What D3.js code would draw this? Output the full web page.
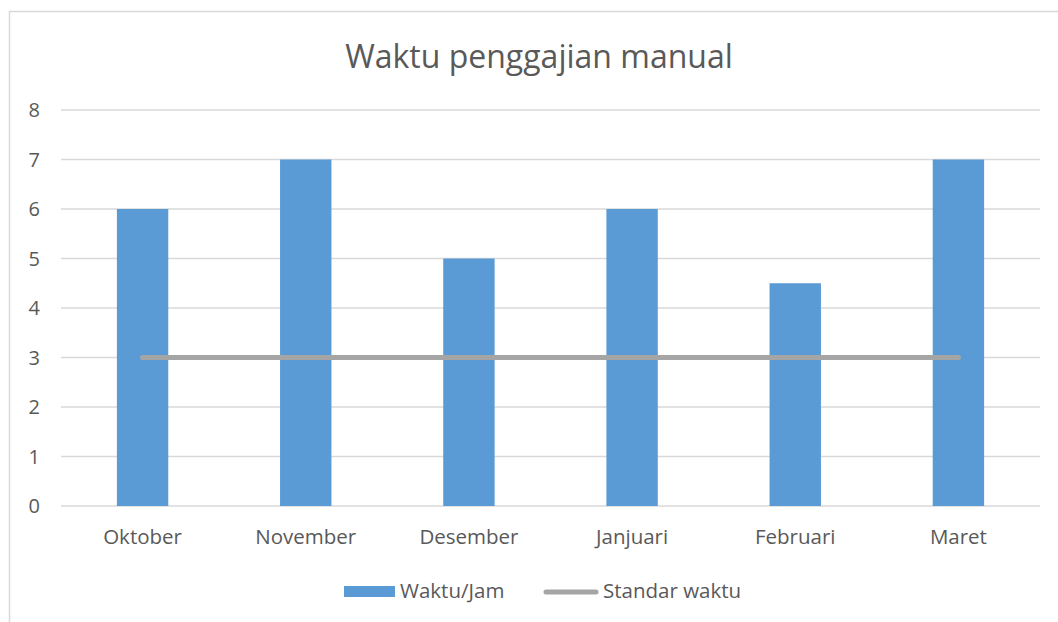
<!DOCTYPE html>
<html>
<head>
<meta charset="utf-8">
<script src="https://cdn.jsdelivr.net/npm/d3@7"></script>
<style>
  body { margin: 0; background: #fff; }
  text { font-family: "Open Sans", "Noto Sans", sans-serif; fill: #595959; }
</style>
</head>
<body>
<svg id="chart" width="1058" height="622"></svg>
<script>
const months = ['Oktober', 'November', 'Desember', 'Janjuari', 'Februari', 'Maret'];
const jamValues = [6, 7, 5, 6, 4.5, 7];
const standarValues = [3, 3, 3, 3, 3, 3];
const yTicks = [0, 1, 2, 3, 4, 5, 6, 7, 8];
const seriesNames = ['Waktu/Jam', 'Standar waktu'];

const svg = d3.select('#chart');
const barColor = '#5B9BD5';
const lineColor = '#A5A5A5';

// chart frame
svg.append('rect')
  .attr('x', 9.5).attr('y', 11.5)
  .attr('width', 1100).attr('height', 700)
  .attr('fill', 'none')
  .attr('stroke', '#D9D9D9')
  .attr('stroke-width', 1.5);

const x = d3.scaleBand()
  .domain(months)
  .range([61, 1040])
  .paddingInner(0.685)
  .paddingOuter(0.3425);

const y = d3.scaleLinear()
  .domain([0, 8])
  .range([506, 110]);

// gridlines
svg.append('g')
  .selectAll('line')
  .data(yTicks)
  .enter().append('line')
  .attr('x1', 61).attr('x2', 1040)
  .attr('y1', d => y(d)).attr('y2', d => y(d))
  .attr('stroke', '#D9D9D9')
  .attr('stroke-width', 1.5);

// y labels
svg.append('g')
  .selectAll('text')
  .data(yTicks)
  .enter().append('text')
  .attr('x', 40)
  .attr('y', d => y(d))
  .attr('dy', '0.36em')
  .attr('text-anchor', 'end')
  .style('font-size', '20px')
  .text(d => d);

// bars
svg.append('g')
  .selectAll('rect')
  .data(jamValues)
  .enter().append('rect')
  .attr('x', (d, i) => x(months[i]))
  .attr('y', d => y(d))
  .attr('width', x.bandwidth())
  .attr('height', d => y(0) - y(d))
  .attr('fill', barColor);

// standard line
const line = d3.line()
  .x((d, i) => x(months[i]) + x.bandwidth() / 2)
  .y(d => y(d));
svg.append('path')
  .datum(standarValues)
  .attr('d', line)
  .attr('fill', 'none')
  .attr('stroke', lineColor)
  .attr('stroke-width', 5)
  .attr('stroke-linecap', 'round');

// x labels
svg.append('g')
  .selectAll('text')
  .data(months)
  .enter().append('text')
  .attr('x', d => x(d) + x.bandwidth() / 2)
  .attr('y', 537)
  .attr('dy', '0.36em')
  .attr('text-anchor', 'middle')
  .style('font-size', '20.5px')
  .text(d => d);

// title
svg.append('text')
  .attr('x', 539)
  .attr('y', 56)
  .attr('dy', '0.36em')
  .attr('text-anchor', 'middle')
  .style('font-size', '32px')
  .text('Waktu penggajian manual');

// legend
const legend = svg.append('g');
legend.append('rect')
  .attr('x', 344).attr('y', 586)
  .attr('width', 51).attr('height', 11)
  .attr('fill', barColor);
legend.append('text')
  .attr('x', 400).attr('y', 591)
  .attr('dy', '0.36em')
  .style('font-size', '20.5px')
  .text(seriesNames[0]);
legend.append('line')
  .attr('x1', 546).attr('x2', 596)
  .attr('y1', 592).attr('y2', 592)
  .attr('stroke', lineColor)
  .attr('stroke-width', 5)
  .attr('stroke-linecap', 'round');
legend.append('text')
  .attr('x', 603).attr('y', 591)
  .attr('dy', '0.36em')
  .style('font-size', '20.5px')
  .text(seriesNames[1]);
</script>
</body>
</html>
